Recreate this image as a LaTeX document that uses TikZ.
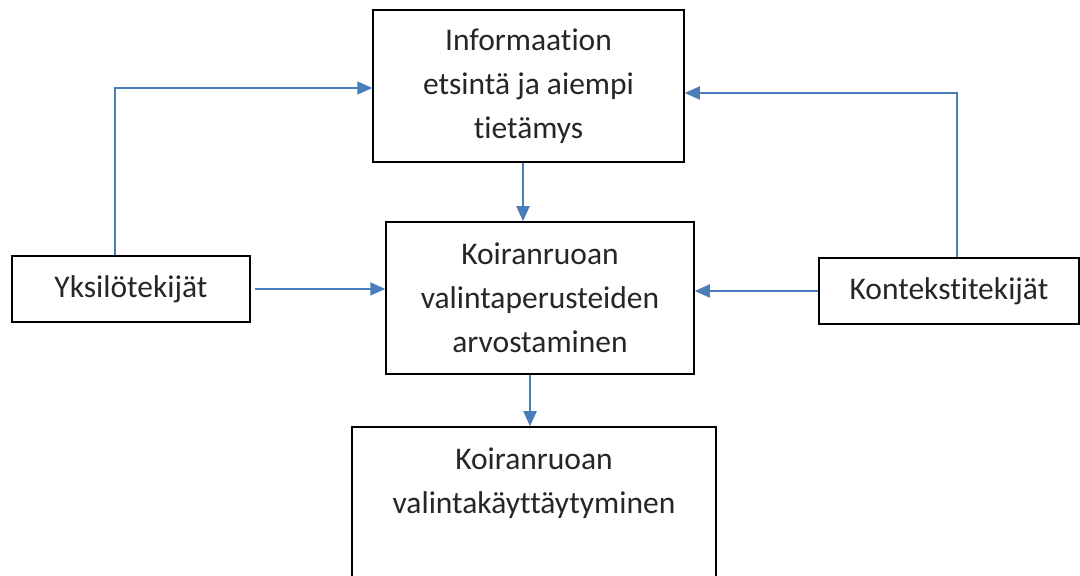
\documentclass[tikz,border=0pt]{standalone}
\usepackage{fontspec}
\setmainfont{Carlito}[Ligatures={NoCommon,NoRare,NoContextual}]
\usetikzlibrary{arrows.meta}
\definecolor{arrowblue}{HTML}{4A7EBB}
\begin{document}
\begin{tikzpicture}[x=1pt,y=1pt,
  box/.style={draw=black, line width=1.5pt, rectangle, inner sep=0pt, align=center,
    font=\fontsize{31.5}{44}\selectfont, text=black!85},
  txt/.style={inner sep=0pt, align=center, font=\fontsize{31.5}{44}\selectfont, text=black!85},
  arr/.style={draw=arrowblue, line width=1.8pt, -{Triangle[length=15pt,width=13pt]}}]
\useasboundingbox (0,0) rectangle (1080,576);
\clip (0,0) rectangle (1080,576);
\fill[white] (0,0) rectangle (1080,576);
\node[box, minimum width=311pt, minimum height=152pt] (info) at (528.5,490)
  {Informaation\\etsintä ja aiempi\\tietämys};
\node[box, minimum width=308pt, minimum height=152pt] (mid) at (540,278)
  {Koiranruoan\\valintaperusteiden\\arvostaminen};
\node[box, minimum width=238pt, minimum height=66pt] (yk) at (131,287) {Yksilötekijät};
\node[box, minimum width=260pt, minimum height=66pt] (kt) at (949,285) {Kontekstitekijät};
\node[box, minimum width=364pt, minimum height=213pt] (bot) at (534,42.5) {};
\node[txt] (bottext) at (534,92.5) {Koiranruoan\\valintakäyttäytyminen};
\draw[arr] ([xshift=-5.5pt]info.south) -- ([xshift=-5.5pt]info.south |- mid.north);
\draw[arr] ([xshift=-10pt]mid.south) -- ([xshift=-10pt]mid.south |- bot.north);
\draw[arr] ([xshift=4pt]yk.east) -- (yk.east -| mid.west);
\draw[arr] (kt.west) -- (kt.west -| mid.east);
\draw[arr] ([xshift=-16pt]yk.north) |- ([yshift=-2pt]info.west);
\draw[arr] ([xshift=8pt]kt.north) |- ([yshift=-7pt]info.east);
\end{tikzpicture}
\end{document}
